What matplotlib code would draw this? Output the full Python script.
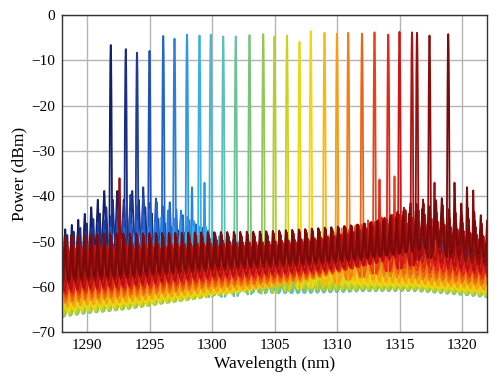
import numpy as np
import matplotlib
matplotlib.use("Agg")
import matplotlib.pyplot as plt
from matplotlib.colors import LinearSegmentedColormap

plt.rcParams['font.family'] = ['Liberation Serif', 'DejaVu Serif']

# lasing peaks (one spectrum each)
peak_nm = [1291.9, 1293.1, 1294.0, 1295.0, 1296.1, 1297.0, 1298.0, 1299.0,
           1299.9, 1300.9, 1301.9, 1303.0, 1304.1, 1305.0, 1306.0, 1307.0,
           1307.9, 1309.0, 1310.0, 1310.9, 1312.0, 1313.0, 1314.1, 1315.0,
           1316.0, 1316.4, 1317.4, 1318.9]
peak_dbm = [-6.6, -7.5, -8.3, -7.9, -4.6, -5.2, -4.3, -4.5,
            -4.3, -4.7, -4.7, -4.4, -4.2, -4.7, -4.5, -5.9,
            -3.5, -3.9, -4.1, -3.9, -4.1, -3.8, -4.3, -3.7,
            -3.8, -3.9, -4.5, -4.2]

# lower edge of the noise floor and tooth height of the mode comb
env_nm = [1288, 1290, 1293, 1296, 1300, 1304, 1308, 1312, 1316, 1320, 1322]
env_low = [-71, -70, -68.5, -66.5, -64.5, -63.5, -63, -62.5, -62.5, -63.5, -64]
tooth_env = [14, 13.5, 12, 10, 8, 7, 7, 7, 7.5, 8, 8]

# per spectrum: floor lift, extra tooth height, boost of modes near the peak
lift = [4, 4, 4, 4, 4, 3.5, 2.5, 2, 0.5, 0.3, 0.3, 0.5, 0.5, 0.5, 0.8, 1,
        1, 1.2, 1.5, 2, 2.5, 3, 3.5, 4, 4.5, 5.5, 6, 6.5]
tooth_off = [1, 1, 1, 1, 1, 0.5, 0, 0, -1.5, -1.5, -1.5, -1.5, -1.5, -1.5, -1.5, -1,
             -0.5, 0, 0, 0.5, 0.5, 1, 1, 1, 1, 1.5, 1.5, 1.5]
boost = [15, 15, 14, 13, 12, 11, 10, 9, 7, 7, 7, 7, 7, 7, 7, 7,
         7, 7, 7, 7, 7, 7, 7, 7, 7.5, 7.5, 8, 8]

# small secondary peaks: (wavelength, power, spectrum index)
side_nm = [1292.6, 1294.5, 1298.4, 1299.4, 1313.4, 1314.6, 1317.8, 1319.4, 1320.4, 1320.9]
side_dbm = [-36, -38, -38, -37, -36.3, -35.6, -37, -37, -38, -38.7]
side_idx = [25, 2, 5, 6, 22, 21, 25, 27, 27, 26]

colors = [(0.08, 0.12, 0.42), (0.12, 0.25, 0.65), (0.15, 0.45, 0.85),
          (0.2, 0.68, 0.92), (0.35, 0.76, 0.72), (0.5, 0.76, 0.45),
          (0.76, 0.82, 0.1), (0.97, 0.86, 0.05), (0.97, 0.62, 0.08),
          (0.92, 0.36, 0.08), (0.88, 0.1, 0.1), (0.62, 0.05, 0.05),
          (0.48, 0.04, 0.04)]
cmap = LinearSegmentedColormap.from_list("jetlike", colors)

spacing = 0.52
x = np.arange(1288, 1322.001, 0.005)


def spectrum(i):
    lp = peak_nm[i]
    floor = np.interp(x, env_nm, env_low) + lift[i]
    k = np.arange(-70, 71)
    k = k[k != 0]
    modes = lp + k * spacing
    modes = modes[(modes > 1287) & (modes < 1323)]
    tops = (np.interp(modes, env_nm, env_low) + lift[i]
            + np.interp(modes, env_nm, tooth_env) + tooth_off[i]
            + boost[i] * np.exp(-np.abs(modes - lp) / 3.0))
    lin = 10 ** (floor / 10)
    lin = lin + np.sum(10 ** (tops[:, None] / 10)
                       / (1 + ((x[None, :] - modes[:, None]) / 0.05) ** 2), axis=0)
    y = 10 * np.log10(lin)
    y = np.maximum(y, peak_dbm[i] - 4.343 * ((x - lp) / 0.035) ** 2)
    for s_nm, s_db, s_i in zip(side_nm, side_dbm, side_idx):
        if s_i == i:
            y = np.maximum(y, s_db - 4.343 * ((x - s_nm) / 0.035) ** 2)
    return y


def main():
    fig = plt.figure(figsize=(5, 3.77), dpi=100)
    ax = fig.add_axes([0.124, 0.119, 0.850, 0.841])
    n = len(peak_nm)
    for i in range(n):
        ax.plot(x, spectrum(i), color=cmap(i / (n - 1)), lw=1.3)
    ax.set_xlim(1288, 1322)
    ax.set_ylim(-70, 0)
    ax.set_xticks([1290, 1295, 1300, 1305, 1310, 1315, 1320])
    ax.set_yticks([-70, -60, -50, -40, -30, -20, -10, 0])
    ax.grid(True, color='#b4b4b4', lw=1)
    ax.set_axisbelow(True)
    ax.tick_params(length=0, labelsize=11, pad=5)
    for s in ax.spines.values():
        s.set_color('#333333')
        s.set_linewidth(1)
    ax.set_xlabel("Wavelength (nm)", fontsize=12.5, labelpad=3)
    ax.set_ylabel("Power (dBm)", fontsize=12.5, labelpad=3)
    fig.savefig("out.png", dpi=100)
    plt.close(fig)


if __name__ == '__main__':
    main()
